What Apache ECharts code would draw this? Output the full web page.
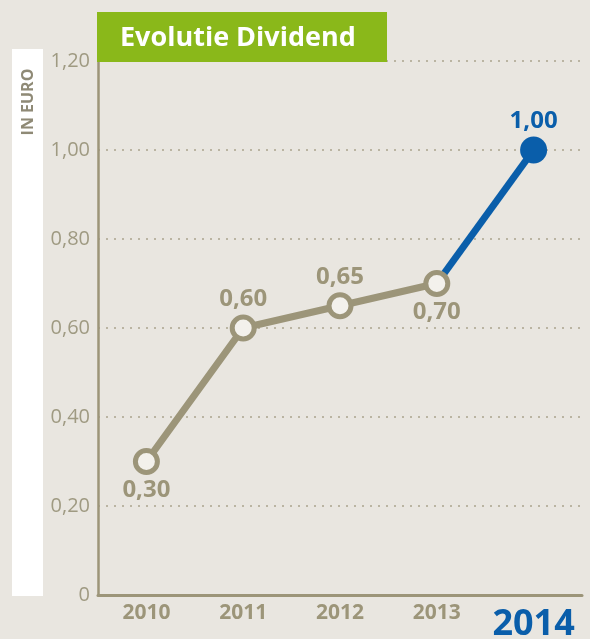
<!DOCTYPE html>
<html>
<head>
<meta charset="utf-8">
<script src="https://cdn.jsdelivr.net/npm/echarts@6/dist/echarts.min.js"></script>
<style>
  html, body { margin: 0; padding: 0; background: #e9e6e0; }
  #chart { width: 590px; height: 639px; }
</style>
</head>
<body>
<div id="chart"></div>
<script>
// data
var years = ["2010", "2011", "2012", "2013", "2014"];
var pastDividend = [0.30, 0.60, 0.65, 0.70, "-"];
var newDividend = ["-", "-", "-", 0.70, 1.00];
var labelBelow = [true, false, false, true];

var grey = "#9c9579";
var blue = "#0a5eaa";

function euro(v) {
    if (v === 0) return "0";
    return v.toFixed(2).replace(".", ",");
}

var chart = echarts.init(document.getElementById("chart"));

chart.setOption({
    backgroundColor: "#e9e6e0",
    textStyle: { fontFamily: "Open Sans" },
    grid: { left: 98, right: 8, top: 61, bottom: 44, outerBoundsMode: "none", containLabel: false },
    graphic: [
        {
            type: "rect",
            shape: { x: 12, y: 49, width: 31, height: 547 },
            style: { fill: "#ffffff" }
        },
        {
            type: "text",
            x: 28,
            y: 102,
            rotation: Math.PI / 2,
            style: {
                text: "IN EURO",
                fill: "#8f8a76",
                font: "bold 16px 'Open Sans'",
                textAlign: "center",
                textVerticalAlign: "middle"
            }
        },
        {
            type: "rect",
            z: 10,
            shape: { x: 97, y: 12, width: 290, height: 50 },
            style: { fill: "#8ab81a" }
        },
        {
            type: "text",
            z: 11,
            x: 120,
            y: 38,
            style: {
                text: "Evolutie Dividend",
                fill: "#ffffff",
                font: "bold 27px 'Open Sans'",
                textVerticalAlign: "middle"
            }
        }
    ],
    xAxis: {
        type: "category",
        data: years,
        axisLine: { lineStyle: { color: grey, width: 3 } },
        axisTick: { show: false },
        axisLabel: {
            interval: 0,
            hideOverlap: false,
            margin: 8,
            color: grey,
            fontSize: 21,
            fontWeight: "bold",
            formatter: function (v) {
                return v === "2014" ? "{big|" + v + "}" : v;
            },
            rich: {
                big: {
                    color: blue,
                    fontSize: 36,
                    fontWeight: "bold",
                    padding: [4, 0, 0, 0]
                }
            }
        }
    },
    yAxis: {
        type: "value",
        min: 0,
        max: 1.2,
        interval: 0.2,
        axisLine: { show: true, lineStyle: { color: grey, width: 2.5 } },
        axisTick: { show: false },
        axisLabel: {
            margin: 8,
            color: "#9f9a82",
            fontSize: 20,
            formatter: euro
        },
        splitLine: {
            lineStyle: { type: [2, 6], color: "#aaa48d", width: 1.5 }
        }
    },
    series: [
        {
            type: "line",
            data: newDividend,
            z: 2,
            symbol: "circle",
            symbolSize: function (v, p) { return p.dataIndex === 4 ? 27 : 0; },
            lineStyle: { color: blue, width: 7 },
            itemStyle: { color: blue },
            emphasis: { disabled: true },
            label: {
                show: true,
                position: "top",
                distance: 3,
                color: blue,
                fontSize: 24,
                fontWeight: "bold",
                formatter: function (p) { return p.dataIndex === 4 ? euro(p.value) : ""; }
            }
        },
        {
            type: "line",
            data: pastDividend.map(function (v, i) {
                if (v === "-") return v;
                return {
                    value: v,
                    label: { position: labelBelow[i] ? "bottom" : "top" }
                };
            }),
            z: 3,
            symbol: "circle",
            symbolSize: 22,
            showAllSymbol: true,
            lineStyle: { color: grey, width: 7 },
            itemStyle: { color: "#f3f1ec", borderColor: grey, borderWidth: 5 },
            emphasis: { disabled: true },
            label: {
                show: true,
                color: grey,
                fontSize: 24,
                fontWeight: "bold",
                distance: 3,
                formatter: function (p) { return euro(p.value); }
            }
        }
    ]
});
</script>
</body>
</html>
